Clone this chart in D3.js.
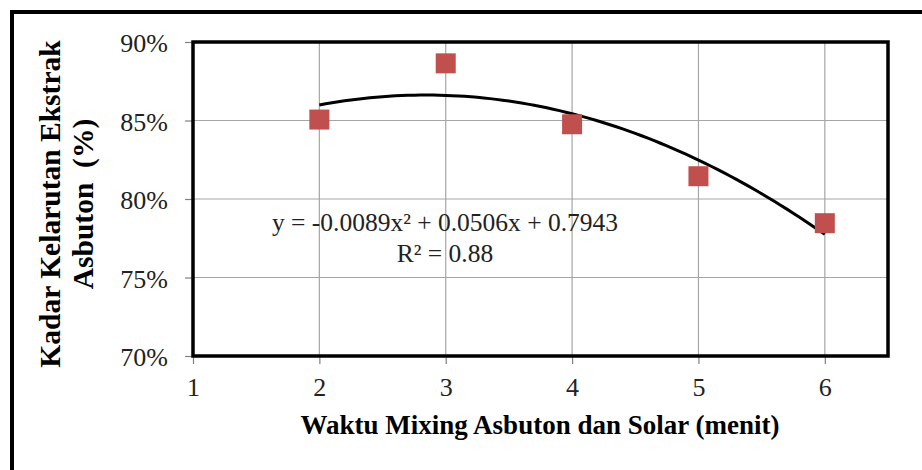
<!DOCTYPE html>
<html>
<head>
<meta charset="utf-8">
<script src="https://cdn.jsdelivr.net/npm/d3@7"></script>
<style>
  body { margin: 0; background: #fff; }
  svg { display: block; }
</style>
</head>
<body>
<div id="chart"></div>
<script>
// data
var waktu = [2, 3, 4, 5, 6],
    kadar = [0.8506, 0.8864, 0.8476, 0.8145, 0.7846],
    xTicks = [1, 2, 3, 4, 5, 6],
    yTicks = [0.70, 0.75, 0.80, 0.85, 0.90],
    trendCoef = [-0.0089, 0.0506, 0.7943], // a, b, c of the shown polynomial
    trendLabel = ["y = -0.0089x\u00b2 + 0.0506x + 0.7943", "R\u00b2 = 0.88"];

var W = 922, H = 470,
    margin = { top: 42, right: 34, bottom: 114, left: 193 },
    width = W - margin.left - margin.right,
    height = H - margin.top - margin.bottom,
    font = "'Liberation Serif', 'Times New Roman', serif",
    colorPoint = "#c0504d";

var svg = d3.select("#chart").append("svg")
    .attr("width", W)
    .attr("height", H);

// outer frame (runs off the right and bottom edge)
svg.append("rect")
    .attr("x", 12).attr("y", 12)
    .attr("width", W).attr("height", H)
    .attr("fill", "none")
    .attr("stroke", "#000")
    .attr("stroke-width", 4);

var g = svg.append("g")
    .attr("transform", "translate(" + margin.left + "," + margin.top + ")");

var x = d3.scaleLinear().domain([1, 6.5]).range([0, width]),
    y = d3.scaleLinear().domain([0.70, 0.90]).range([height, 0]);

// grid
g.append("g").selectAll("line")
    .data(yTicks.slice(1, -1))
    .enter().append("line")
    .attr("x1", 0).attr("x2", width)
    .attr("y1", function (d) { return y(d); })
    .attr("y2", function (d) { return y(d); })
    .attr("stroke", "#a6a6a6").attr("stroke-width", 1.2);

g.append("g").selectAll("line")
    .data(xTicks.slice(1))
    .enter().append("line")
    .attr("y1", 0).attr("y2", height)
    .attr("x1", function (d) { return x(d); })
    .attr("x2", function (d) { return x(d); })
    .attr("stroke", "#a6a6a6").attr("stroke-width", 1.2);

// axes
var xAxis = g.append("g")
    .attr("transform", "translate(0," + height + ")")
    .call(d3.axisBottom(x).tickValues(xTicks).tickSize(8).tickSizeOuter(0).tickPadding(14)
        .tickFormat(d3.format("d")));

var yAxis = g.append("g")
    .call(d3.axisLeft(y).tickValues(yTicks).tickSize(8).tickSizeOuter(0).tickPadding(17)
        .tickFormat(d3.format(".0%")));

[xAxis, yAxis].forEach(function (ax) {
    ax.select(".domain").remove();
    ax.selectAll(".tick line").attr("stroke", "#808080").attr("stroke-width", 1.2);
    ax.selectAll("text")
        .attr("font-family", font)
        .attr("font-size", 26)
        .attr("fill", "#222");
});
yAxis.selectAll("text").attr("dy", "0.38em");

// plot area border
g.append("rect")
    .attr("x", 0).attr("y", 0)
    .attr("width", width).attr("height", height)
    .attr("fill", "none")
    .attr("stroke", "#000")
    .attr("stroke-width", 3.5);

// polynomial trendline
var trendX = d3.range(waktu[0], waktu[waktu.length - 1] + 0.001, 0.05);
g.append("path")
    .datum(trendX)
    .attr("fill", "none")
    .attr("stroke", "#000")
    .attr("stroke-width", 3)
    .attr("d", d3.line()
        .x(function (d) { return x(d); })
        .y(function (d) { return y(trendCoef[0] * d * d + trendCoef[1] * d + trendCoef[2]); }));

// points
var size = 20;
g.append("g").selectAll("rect")
    .data(waktu)
    .enter().append("rect")
    .attr("x", function (d) { return x(d) - size / 2; })
    .attr("y", function (d, i) { return y(kadar[i]) - size / 2; })
    .attr("width", size).attr("height", size)
    .attr("fill", colorPoint);

// trendline label
g.append("text")
    .attr("x", 252).attr("y", 189)
    .attr("text-anchor", "middle")
    .attr("font-family", font).attr("font-size", 25.5).attr("fill", "#222")
    .text(trendLabel[0]);
g.append("text")
    .attr("x", 252).attr("y", 220)
    .attr("text-anchor", "middle")
    .attr("font-family", font).attr("font-size", 25.5).attr("fill", "#222")
    .text(trendLabel[1]);

// axis titles
svg.append("text")
    .attr("x", 540).attr("y", 434)
    .attr("text-anchor", "middle")
    .attr("font-family", font).attr("font-size", 27).attr("font-weight", "bold")
    .text("Waktu Mixing Asbuton dan Solar (menit)");

var yt = svg.append("text")
    .attr("transform", "translate(0,204) rotate(-90)")
    .attr("text-anchor", "middle")
    .attr("font-family", font).attr("font-size", 29.5).attr("font-weight", "bold");
yt.append("tspan").attr("x", 0).attr("y", 60).text("Kadar Kelarutan Ekstrak");
yt.append("tspan").attr("x", 0).attr("y", 93).attr("xml:space", "preserve").text("Asbuton  (%)");
</script>
</body>
</html>
